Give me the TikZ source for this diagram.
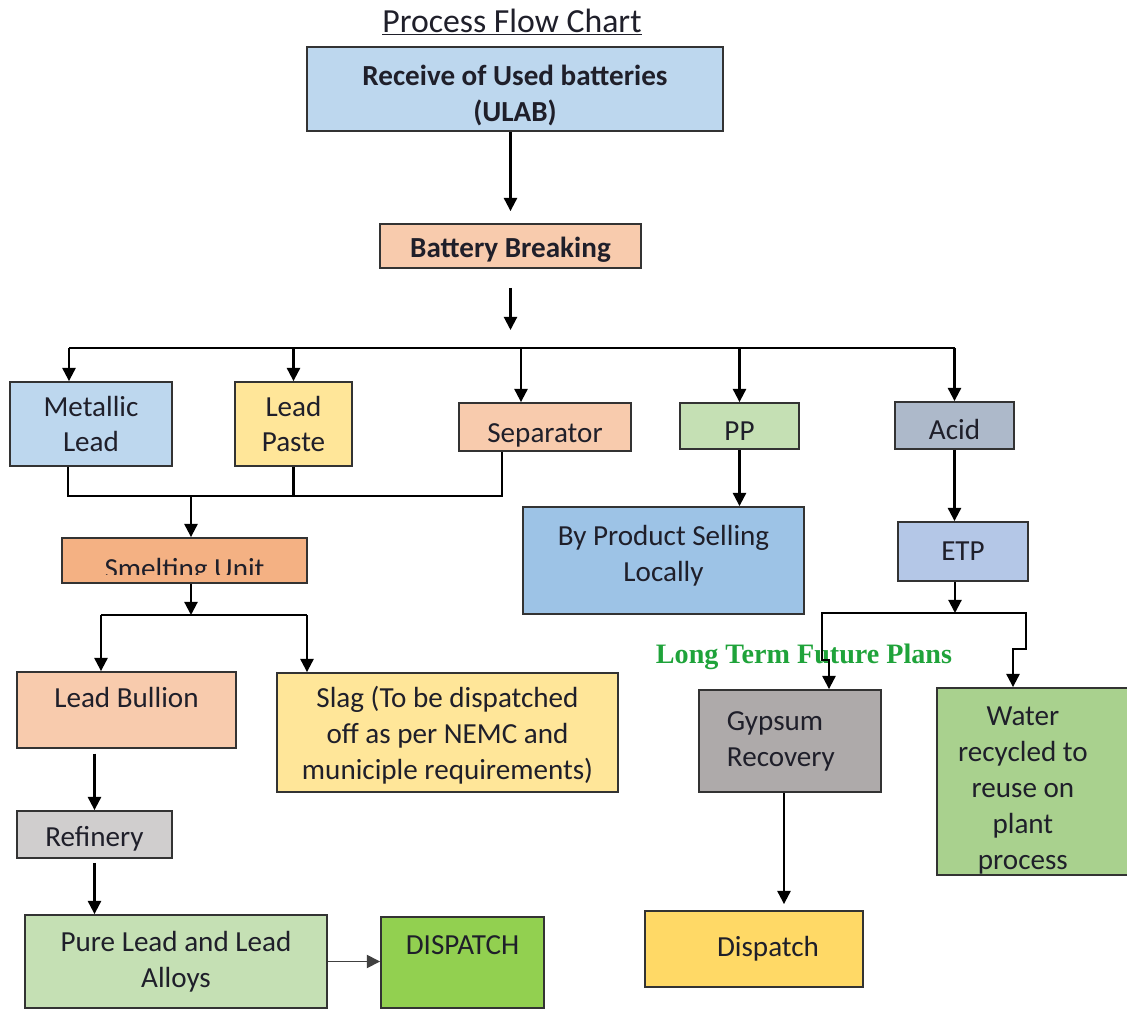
\documentclass[tikz,border=0pt]{standalone}
\usepackage{fontspec}
\setmainfont{Carlito}
\newfontfamily\plansfont{Liberation Serif}
\usetikzlibrary{arrows.meta}

\definecolor{edge}{HTML}{333333}
\definecolor{ink}{HTML}{1F1F2A}
\definecolor{lblue}{HTML}{BDD7EE}
\definecolor{peach}{HTML}{F8CBAD}
\definecolor{lyellow}{HTML}{FFE699}
\definecolor{lgreen}{HTML}{C5E0B4}
\definecolor{slate}{HTML}{ADB9CA}
\definecolor{orng}{HTML}{F4B183}
\definecolor{mblue}{HTML}{9DC3E6}
\definecolor{pblue}{HTML}{B4C7E7}
\definecolor{lgray}{HTML}{D0CECE}
\definecolor{dgray}{HTML}{AEAAAA}
\definecolor{bgreen}{HTML}{92D050}
\definecolor{dispyellow}{HTML}{FFD966}
\definecolor{mgreen}{HTML}{A9D18E}
\definecolor{plangreen}{HTML}{1FA33A}

\newcommand\boxlines[2]{\raisebox{-#1}[\height][\depth]{\begin{tabular}{@{}c@{}}#2\end{tabular}}}

\tikzset{
  stage/.style={draw=edge,line width=1.3pt,rectangle,inner sep=0pt,align=center,text=ink,font=\fontsize{20.7}{25.5}\selectfont},
  boldstage/.style={stage,font=\fontsize{20.7}{25.5}\selectfont\bfseries},
  flow/.style={draw=black,line width=1.5pt,-{Triangle[length=0.33cm,width=0.33cm]}},
  link/.style={draw=black,line width=1.5pt}
}

\begin{document}
\begin{tikzpicture}[x=0.025cm,y=-0.025cm]
\clip (0,0) rectangle (1127,1011);

\node[font=\fontsize{24}{28}\selectfont,text=ink] (title) at (512,22) {\underline{Process Flow Chart}};

\node[boldstage,fill=lblue,minimum width=10.4cm,minimum height=2.1cm] (recv) at (515,89) {\boxlines{0.18cm}{Receive of Used batteries\\(ULAB)}};
\node[boldstage,fill=peach,minimum width=6.525cm,minimum height=1.1cm] (brk) at (510.5,246) {\boxlines{0.1cm}{Battery Breaking}};

\coordinate (bus) at (511,348);
\coordinate (b1) at (69,348);
\coordinate (b3) at (521,348);

\node[stage,fill=lblue,minimum width=4.05cm,minimum height=2.1cm] (metal) at (91,424) {Metallic\\Lead};
\node[stage,fill=lyellow,minimum width=2.925cm,minimum height=2.1cm] (paste) at (293.5,424) {Lead\\Paste};
\node[stage,fill=peach,minimum width=4.3cm,minimum height=1.2cm] (sep) at (545,427) {\boxlines{0.2cm}{Separator}};
\node[stage,fill=lgreen,minimum width=2.975cm,minimum height=1.15cm] (pp) at (739.5,426) {\boxlines{0.175cm}{PP}};
\node[stage,fill=slate,minimum width=2.975cm,minimum height=1.175cm] (acid) at (954.5,425.5) {\boxlines{0.175cm}{Acid}};

\draw[flow,shorten >=0.3cm] (recv.south -| brk.north) -- (brk.north);
\draw[flow,shorten <=0.475cm,shorten >=0.45cm] (brk.south) -- (brk.south |- bus);

\draw[link] (b1) -- (acid.north |- bus);
\draw[flow] (b1) -- (b1 |- metal.north);
\draw[flow] (paste.north |- bus) -- (paste.north);
\draw[flow] (b3) -- (b3 |- sep.north);
\draw[flow] (pp.north |- bus) -- (pp.north);
\draw[flow] (acid.north |- bus) -- (acid.north);

\coordinate (m1) at (68,496);
\coordinate (s1) at (502,496);
\coordinate (j) at (191,496);

\node[stage,fill=orng,minimum width=6.125cm,minimum height=1.125cm,
  path picture={
    \clip (path picture bounding box.north west) rectangle ([yshift=0.22cm]path picture bounding box.south east);
    \node[draw=none,fill=none,inner sep=0pt,anchor=base,text=ink,font=\fontsize{20.7}{25.5}\selectfont]
      at ([yshift=0.125cm]path picture bounding box.south) {Smelting Unit};
  }] (smelt) at (184.5,560.5) {};

\draw[link] (m1 |- metal.south) -- (m1) -- (s1) -- (s1 |- sep.south);
\draw[link] (paste.south) -- (paste.south |- j);
\draw[flow] (j) -- (j |- smelt.north);

\coordinate (k) at (191,615);
\coordinate (k1) at (101,615);
\coordinate (k2) at (307,615);

\node[stage,fill=peach,minimum width=5.475cm,minimum height=1.9cm,text depth=0.64cm] (bull) at (126.5,710) {Lead Bullion};
\node[stage,fill=lyellow,minimum width=8.525cm,minimum height=2.975cm] (slag) at (447.5,732.5) {\boxlines{0.1cm}{Slag (To be dispatched\\off as per NEMC and\\municiple requirements)}};
\node[stage,fill=lgray,minimum width=3.875cm,minimum height=1.175cm] (refin) at (94.5,834.5) {\boxlines{0.125cm}{Refinery}};
\node[stage,fill=lgreen,minimum width=7.55cm,minimum height=2.325cm] (pure) at (176,961.5) {Pure Lead and Lead\\Alloys};
\node[stage,fill=bgreen,minimum width=4.075cm,minimum height=2.275cm,text depth=0.85cm] (disp1) at (462.5,962.5) {DISPATCH};

\draw[flow] (smelt.south -| k) -- (k);
\draw[link] (k1) -- (k2);
\draw[flow] (k1) -- (k1 |- bull.north);
\draw[flow] (k2) -- (k2 |- slag.north);
\draw[flow,shorten <=0.12cm] (bull.south -| refin.north) -- (refin.north);
\draw[flow,shorten <=0.1cm] (refin.south) -- (refin.south |- pure.north);
\draw[flow,draw=black!75,line width=1pt] (pure.east) -- (pure.east -| disp1.west);

\node[stage,fill=mblue,minimum width=7.025cm,minimum height=2.675cm] (byprod) at (663.5,560.5) {\boxlines{-0.1cm}{By Product Selling\\Locally}};
\node[stage,fill=pblue,minimum width=3.25cm,minimum height=1.475cm] (etp) at (963,551.5) {ETP};
\draw[flow] (pp.south) -- (pp.south |- byprod.north);
\draw[flow] (acid.south) -- (acid.south |- etp.north);

\coordinate (e) at (955,613);
\coordinate (e1) at (822,613);
\coordinate (e2) at (1026,613);
\coordinate (e3) at (1013,649);
\coordinate (e4) at (829,660);

\node[font=\plansfont\fontsize{20}{24}\selectfont\bfseries,text=plangreen] (plans) at (804,657) {Long Term Future Plans};
\node[stage,fill=dgray,minimum width=4.55cm,minimum height=2.55cm,text width=3.15cm,inner xsep=0.7cm,align=left] (gyps) at (790,741) {Gypsum\\Recovery};
\node[stage,fill=dispyellow,minimum width=5.45cm,minimum height=1.9cm] (disp2) at (754,949) {\hspace*{0.7cm}Dispatch};
\node[stage,fill=mgreen,minimum width=5.075cm,minimum height=4.675cm] (water) at (1038.5,781.5) {\raisebox{-0.225cm}[\height][\depth]{\begin{tabular}{@{}c@{\hspace{0.78cm}}}Water\\recycled to\\reuse on\\plant\\process\end{tabular}}};

\draw[flow] (etp.south -| e) -- (e);
\draw[flow] (e) -| (e2 |- e3) -| (e3 |- water.north);
\draw[flow] (e) -| (e1 |- e4) -| (e4 |- gyps.north);
\draw[flow,shorten >=0.15cm] ([xshift=-0.15cm]gyps.south) -- ([xshift=-0.15cm]gyps.south |- disp2.north);
\end{tikzpicture}
\end{document}
